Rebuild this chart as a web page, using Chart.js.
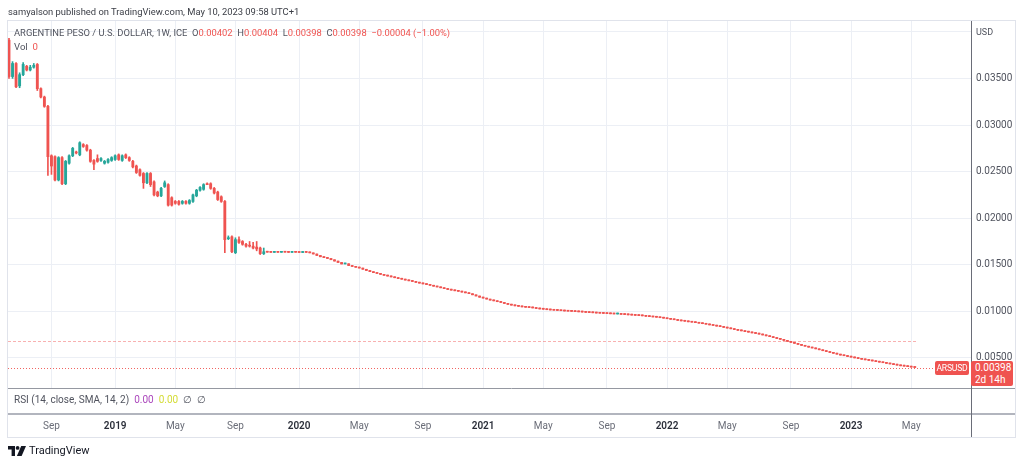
<!DOCTYPE html>
<html><head><meta charset="utf-8">
<script src="https://cdn.jsdelivr.net/npm/chart.js@4.4.0/dist/chart.umd.min.js"></script>
<style>
html,body{margin:0;padding:0;background:#fff;width:1024px;height:465px;overflow:hidden;font-family:Roboto,"Noto Sans",sans-serif;}
#wrap{position:relative;width:1024px;height:465px;}
canvas{position:absolute;left:0;top:0;}
.t{position:absolute;white-space:pre;font-size:10px;line-height:12px;color:#50535e;}
.r{color:#ef5350}
.box{position:absolute;background:#ef5350;color:#fff;font-size:10px;line-height:12px;border-radius:2px;white-space:pre;}
</style></head><body>
<div id="wrap">
<canvas id="c" width="1024" height="465"></canvas>
<div class="t" style="left:8px;top:6px;color:#3a3d45;font-size:9.4px">samyalson published on TradingView.com, May 10, 2023 09:58 UTC+1</div>
<div class="t" id="legend" style="left:14px;top:27px;font-size:9.4px"></div>
<div class="t" style="left:14px;top:41px;font-size:9.6px">Vol  <span class="r">0</span></div>
<div class="t" style="left:976px;top:26px;font-size:9px">USD</div>
<div class="t" style="left:14px;top:394px">RSI (14, close, SMA, 14, 2)  <span style="color:#ab47bc">0.00</span>  <span style="color:#d4dc35">0.00</span>  ∅  ∅</div>
<div class="box" id="symBox" style="left:935px;width:34px;height:14px;text-align:center;padding-top:1px;box-sizing:border-box;font-size:8.6px;letter-spacing:-0.2px">ARSUSD</div>
<div class="box" id="valBox" style="left:971px;width:42px;height:25px;padding:1px 0 0 4px;box-sizing:border-box"></div>
<div style="position:absolute;left:8px;top:445px;height:12px;">
<svg width="18" height="10" style="position:absolute;left:0;top:1px"><path d="M0 0h7v10H3.6V3.4H0z" fill="#131722"/><circle cx="9.6" cy="1.9" r="1.9" fill="#131722"/><path d="M13.2 0h4.8l-4.4 10H8.9z" fill="#131722"/></svg>
<span style="position:absolute;left:21px;top:0;font-size:11px;line-height:12px;color:#131722;white-space:pre">TradingView</span>
</div>
</div>
<script>
// ---- data (weekly ARSUSD candles, first week = 2018-06-11) ----
const earlyOpen = [0.0391,0.0352,0.0366,0.0342,0.0354,0.0363,0.0359,0.0362,0.0365,0.0339,
0.0330,0.0320,0.0267,0.0266,0.0241,0.0265,0.0237,0.0259,0.0267,0.0271,
0.0268,0.0279,0.0278,0.0273,0.0262,0.0264,0.0262,0.0259,0.0260,0.0262,
0.0263,0.0268,0.0262,0.0268,0.0265,0.0261,0.0256,0.0252,0.0248,0.0238,
0.0248,0.0239,0.0228,0.0224,0.0234,0.0236,0.0222,0.0218,0.0218,0.0216,
0.0218,0.0216,0.0218,0.0224,0.0230,0.0231,0.0237,0.0237,0.0232,0.0228,
0.0223,0.0218,0.0178,0.0180,0.0163,0.0177,0.0175,0.0172,0.0171,0.0170,
0.0169,0.0168,0.0162];
const earlyHigh = [0.0393,0.0368,0.0367,0.0356,0.0367,0.0364,0.0364,0.0366,0.0366,0.0340,
0.0331,0.0321,0.0268,0.0267,0.0266,0.0266,0.0262,0.0268,0.0276,0.0272,
0.0282,0.0280,0.0279,0.0274,0.0263,0.0268,0.0265,0.0262,0.0264,0.0266,
0.0268,0.0269,0.0268,0.0269,0.0266,0.0262,0.0257,0.0253,0.0249,0.0249,
0.0249,0.0240,0.0229,0.0233,0.0240,0.0237,0.0223,0.0219,0.0219,0.0219,
0.0219,0.0220,0.0226,0.0231,0.0234,0.0237,0.0238,0.0238,0.0233,0.0229,
0.0224,0.0219,0.0181,0.0181,0.0179,0.0180,0.0176,0.0173,0.0175,0.0174,
0.0175,0.0169,0.0168];
const earlyLow = [0.0350,0.0350,0.0340,0.0340,0.0353,0.0358,0.0358,0.0361,0.0337,0.0329,
0.0319,0.0246,0.0247,0.0240,0.0240,0.0236,0.0236,0.0258,0.0266,0.0269,
0.0267,0.0276,0.0272,0.0260,0.0252,0.0260,0.0261,0.0258,0.0259,0.0261,
0.0262,0.0262,0.0261,0.0264,0.0261,0.0254,0.0248,0.0245,0.0232,0.0237,
0.0234,0.0224,0.0223,0.0223,0.0233,0.0213,0.0213,0.0215,0.0214,0.0215,
0.0215,0.0215,0.0217,0.0223,0.0229,0.0230,0.0236,0.0231,0.0226,0.0219,
0.0217,0.0163,0.0177,0.0163,0.0162,0.0173,0.0171,0.0169,0.0169,0.0167,
0.0165,0.0161,0.0161];
const earlyClose = [0.0352,0.0366,0.0341,0.0354,0.0365,0.0359,0.0362,0.0364,0.0339,0.0330,
0.0320,0.0266,0.0256,0.0241,0.0265,0.0237,0.0261,0.0267,0.0275,0.0270,
0.0281,0.0277,0.0273,0.0261,0.0258,0.0261,0.0264,0.0261,0.0263,0.0265,
0.0267,0.0263,0.0267,0.0265,0.0262,0.0255,0.0249,0.0246,0.0238,0.0248,
0.0236,0.0225,0.0224,0.0232,0.0238,0.0214,0.0214,0.0216,0.0215,0.0218,
0.0216,0.0219,0.0225,0.0230,0.0233,0.0236,0.0236,0.0232,0.0227,0.0220,
0.0218,0.0177,0.0179,0.0164,0.0177,0.0174,0.0172,0.0170,0.0170,0.0168,
0.0167,0.0162,0.0164];
// later weeks: weekly closes (each week opens at the previous close)
const laterClose = [0.01635,0.01633,0.01636,0.01634,0.01637,0.01635,0.01633,0.01636,0.01634,0.01632,0.01635,0.01633,0.01628,
0.01616,0.01600,0.01586,0.01577,0.01568,0.01554,0.01540,0.01525,0.01509,0.01511,
0.01492,0.01482,0.01473,0.01465,0.01452,0.01439,0.01426,0.01416,0.01407,0.01397,
0.01387,0.01379,0.01370,0.01361,0.01352,0.01345,0.01336,0.01328,0.01321,0.01311,
0.01303,0.01295,0.01288,0.01280,0.01270,0.01262,0.01253,0.01244,0.01235,0.01228,
0.01221,0.01215,0.01207,0.01199,0.01190,0.01178,0.01165,0.01152,0.01143,0.01132,
0.01121,0.01113,0.01104,0.01096,0.01085,0.01075,0.01067,0.01060,0.01054,0.01048,
0.01044,0.01041,0.01037,0.01031,0.01026,0.01023,0.01018,0.01015,0.01012,0.01010,
0.01007,0.01004,0.01002,0.01000,0.00997,0.00995,0.00993,0.00989,0.00987,0.00985,
0.00982,0.00980,0.00978,0.00976,0.00974,0.00972,0.00973,0.00968,0.00966,0.00963,
0.00960,0.00957,0.00955,0.00952,0.00947,0.00944,0.00940,0.00937,0.00932,0.00927,
0.00921,0.00915,0.00910,0.00903,0.00898,0.00894,0.00888,0.00884,0.00879,0.00873,
0.00868,0.00862,0.00855,0.00849,0.00842,0.00836,0.00828,0.00821,0.00813,0.00805,
0.00797,0.00791,0.00783,0.00777,0.00769,0.00763,0.00756,0.00747,0.00738,0.00729,
0.00719,0.00709,0.00700,0.00689,0.00678,0.00667,0.00657,0.00646,0.00635,0.00626,
0.00616,0.00607,0.00598,0.00588,0.00578,0.00569,0.00559,0.00550,0.00541,0.00531,
0.00524,0.00516,0.00509,0.00501,0.00494,0.00486,0.00480,0.00474,0.00468,0.00461,
0.00455,0.00449,0.00442,0.00436,0.00429,0.00423,0.00416,0.00412,0.00407,0.00402,
0.00398];
const lastOHLC = [0.00402, 0.00404, 0.00398, 0.00398];
const refLevel = 0.00682;
const tickLabels = ['Sep','2019','May','Sep','2020','May','Sep','2021','May','Sep','2022','May','Sep','2023','May'];
const tickWeeks  = [12,30,47,64,82,99,117,134,151,169,186,203,221,238,255];
const yTicks = [0.005,0.010,0.015,0.020,0.025,0.030,0.035,0.040];

// ---- assemble candles ----
const O=[],H=[],L=[],C=[];
earlyOpen.forEach((o,i)=>{O.push(o);H.push(earlyHigh[i]);L.push(earlyLow[i]);C.push(earlyClose[i]);});
laterClose.forEach(c=>{const o=C[C.length-1];O.push(o);C.push(c);H.push(Math.max(o,c));L.push(Math.min(o,c));});
const n=C.length-1;
O[n]=lastOHLC[0];H[n]=lastOHLC[1];L[n]=lastOHLC[2];C[n]=lastOHLC[3];
const UP='#26a69a', DN='#ef5350';
const cols=C.map((c,i)=>c>=O[i]?UP:DN);
const bodies=C.map((c,i)=>({x:i,y:[O[i],c]}));
const wicks=C.map((c,i)=>({x:i,y:[L[i],H[i]]}));

// legend text
const f=v=>v.toFixed(5);
const chg=C[n]-C[n-1];
document.getElementById('legend').innerHTML='ARGENTINE PESO / U.S. DOLLAR, 1W, ICE  O<span class="r">'+f(O[n])+'</span>  H<span class="r">'+f(H[n])+'</span>  L<span class="r">'+f(L[n])+'</span>  C<span class="r">'+f(C[n])+'</span>  <span class="r">'+(chg<0?'\u2212':'+')+f(Math.abs(chg))+' ('+(chg<0?'\u2212':'+')+(Math.abs(chg)/C[n-1]*100).toFixed(2)+'%)</span>';
document.getElementById('valBox').innerHTML=f(C[n])+'\n2d 14h';

const overlay={id:'overlay',
 beforeDatasetsDraw(ch){const c=ch.ctx,ys=ch.scales.y,xs=ch.scales.x;c.save();
   c.lineWidth=1;
   let y=Math.round(ys.getPixelForValue(refLevel))+0.5;
   c.strokeStyle='rgba(239,83,80,0.45)';c.setLineDash([3,2]);
   c.beginPath();c.moveTo(8,y);c.lineTo(xs.getPixelForValue(n)+3,y);c.stroke();
   y=Math.round(ys.getPixelForValue(C[n]))+0.5;
   c.strokeStyle='rgba(239,83,80,0.9)';c.setLineDash([1,2]);
   c.beginPath();c.moveTo(8,y);c.lineTo(935,y);c.stroke();
   c.restore();},
 afterDraw(ch){const c=ch.ctx;c.save();c.lineWidth=1;
   c.strokeStyle='#e0e3eb';c.strokeRect(7.5,20.5,1008,417);
   c.strokeStyle='#9598a1';c.beginPath();c.moveTo(8,388.5);c.lineTo(1015,388.5);c.stroke();
   c.strokeStyle='#b2b5be';c.lineWidth=2;c.beginPath();c.moveTo(8,414);c.lineTo(1015,414);c.stroke();
   c.lineWidth=1;c.strokeStyle='#6a6d78';c.beginPath();c.moveTo(971.5,21);c.lineTo(971.5,437);c.stroke();
   c.restore();
   const yc=ch.scales.y.getPixelForValue(C[n]);
   document.getElementById('symBox').style.top=(yc-7)+'px';
   document.getElementById('valBox').style.top=(yc-7)+'px';
 }};

new Chart(document.getElementById('c'),{
 type:'bar',
 data:{datasets:[
  {label:'body',data:bodies,backgroundColor:cols,barThickness:2.2,minBarLength:1,grouped:false,order:0,borderWidth:0},
  {label:'wick',data:wicks,backgroundColor:cols,barThickness:1,minBarLength:1,grouped:false,order:1,borderWidth:0}
 ]},
 options:{responsive:false,animation:false,devicePixelRatio:1,
  layout:{padding:{left:8,right:9,top:21,bottom:28}},
  plugins:{legend:{display:false},tooltip:{enabled:false}},
  scales:{
   x:{type:'linear',min:-0.283,max:271.9,offset:false,
      grid:{offset:false,color:'#eceff5',drawTicks:false},border:{display:false},
      afterBuildTicks:s=>{s.ticks=tickWeeks.map(v=>({value:v}));},
      afterFit:s=>{s.height=49;},
      ticks:{autoSkip:false,maxRotation:0,padding:32,
        callback:(v,i)=>tickLabels[i],
        font:c=>({family:'Roboto',size:10,weight:/^\d{4}$/.test(tickLabels[c.index]||'')?'600':'400'}),
        color:c=>/^\d{4}$/.test(tickLabels[c.index]||'')?'#2a2e39':'#6a6d78'}},
   y:{type:'linear',position:'right',min:0.001781,max:0.041159,
      grid:{color:'#eceff5',drawTicks:false},border:{display:false},
      afterBuildTicks:s=>{s.ticks=yTicks.map(v=>({value:v}));},
      afterFit:s=>{s.width=44;},
      ticks:{padding:5,callback:v=>v>0.0395?'':v.toFixed(5),font:{family:'Roboto',size:10},color:'#50535e'}}
  }},
 plugins:[overlay]
});
</script>
</body></html>
